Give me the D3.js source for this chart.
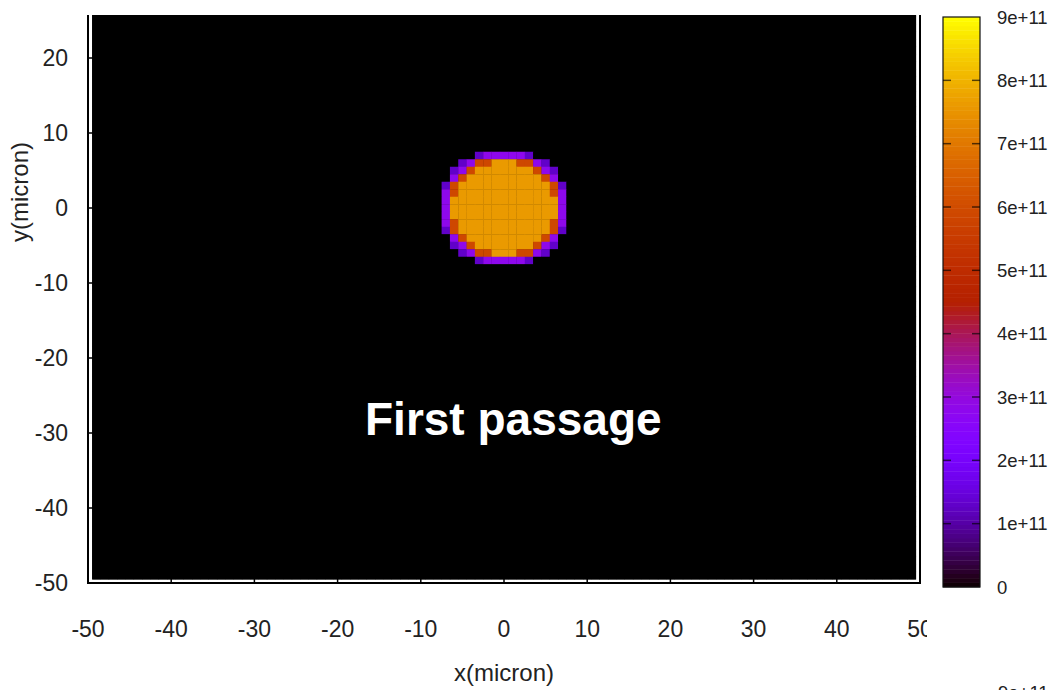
<!DOCTYPE html>
<html><head><meta charset="utf-8">
<script src="https://cdn.jsdelivr.net/npm/d3@7"></script>
<style>body{margin:0;background:#fff} svg{display:block}</style>
</head><body><svg id="c" width="1056" height="690"></svg>
<script>
// ---- data ----
const xTicks = [-50,-40,-30,-20,-10,0,10,20,30,40,50];
const yTicks = [-50,-40,-30,-20,-10,0,10,20];
const cbTicks = [0,1e11,2e11,3e11,4e11,5e11,6e11,7e11,8e11,9e11];
const cbLabels = ["0","1e+11","2e+11","3e+11","4e+11","5e+11","6e+11","7e+11","8e+11","9e+11"];
const zMax = 9e11;
const gridMin = -49, gridMax = 49;          // grid points (micron), 1 micron step
const diskTop = 8, diskLeft = -8;           // first row y, first column x of diskRows
const diskRows = [
  ".................",
  ".....dpppppd.....",
  "...dprrooorrpd...",
  "..dprooooooorpd..",
  "..prooooooooorp..",
  ".drooooooooooord.",
  ".prooooooooooorp.",
  ".pooooooooooooop.",
  ".pooooooooooooop.",
  ".pooooooooooooop.",
  ".prooooooooooorp.",
  ".drooooooooooord.",
  "..prooooooooorp..",
  "..dprooooooorpd..",
  "...dprrooorrpd...",
  ".....dpppppd.....",
  "................."
];
const codeValues = {".":0, "d":1.3e11, "p":2.8e11, "r":5.9e11, "o":7.6e11};
const title = "First passage";

// ---- drawing ----
const svg = d3.select("#c");
const font = "'Liberation Sans', Arial, Helvetica, sans-serif";
const x = d3.scaleLinear().domain([-50,50]).range([88,920]);
const y = d3.scaleLinear().domain([-50,50]).range([583,-167]);
const cb = d3.scaleLinear().domain([0,zMax]).range([587,17]);
function color(v){
  const t = Math.max(0, Math.min(1, v/zMax));
  const r = Math.sqrt(t), g = t*t*t, b = Math.max(0, Math.sin(2*Math.PI*t));
  return d3.rgb(r*255, g*255, b*255).toString();
}

const defs = svg.append("defs");
defs.append("clipPath").attr("id","plotclip").append("rect")
  .attr("x",0).attr("y",15).attr("width",940).attr("height",675);
defs.append("clipPath").attr("id","xlabclip").append("rect")
  .attr("x",0).attr("y",590).attr("width",927).attr("height",60);

const plot = svg.append("g").attr("clip-path","url(#plotclip)");

// cells
const cells = [];
for (let j = gridMax; j >= gridMin; j--) {
  for (let i = gridMin; i <= gridMax; i++) {
    let v = 0;
    const r = diskTop - j, c = i - diskLeft;
    if (r >= 0 && r < diskRows.length && c >= 0 && c < diskRows[r].length) v = codeValues[diskRows[r][c]];
    cells.push({i, j, v});
  }
}
plot.append("rect")
  .attr("x", x(gridMin-0.5)).attr("y", y(gridMax+0.5))
  .attr("width", x(gridMax+0.5)-x(gridMin-0.5))
  .attr("height", y(gridMin-0.5)-y(gridMax+0.5))
  .attr("fill", color(0));
plot.append("g").selectAll("rect").data(cells).join("rect")
  .attr("x", d => x(d.i-0.5))
  .attr("y", d => y(d.j+0.5))
  .attr("width", d => x(d.i+0.5)-x(d.i-0.5)+0.3)
  .attr("height", d => y(d.j-0.5)-y(d.j+0.5)+0.3)
  .attr("fill", d => color(d.v));

// frame
const fr = plot.append("g").attr("stroke","#000").attr("stroke-width",2).attr("fill","none");
fr.append("line").attr("x1",x(-50)).attr("x2",x(-50)).attr("y1",0).attr("y2",y(-50)+1);
fr.append("line").attr("x1",x(50)).attr("x2",x(50)).attr("y1",0).attr("y2",y(-50)+1);
fr.append("line").attr("x1",x(-50)-1).attr("x2",x(50)+1).attr("y1",y(-50)).attr("y2",y(-50));
// ticks
fr.selectAll(".yt").data(yTicks).join("line").attr("class","yt")
  .attr("x1",x(-50)).attr("x2",x(-50)+9).attr("y1",d=>y(d)).attr("y2",d=>y(d)).attr("stroke-width",1.5);
fr.selectAll(".xt").data(xTicks).join("line").attr("class","xt")
  .attr("y1",y(-50)).attr("y2",y(-50)-9).attr("x1",d=>x(d)).attr("x2",d=>x(d)).attr("stroke-width",1.5);

// tick labels
svg.append("g").selectAll("text").data(yTicks).join("text")
  .attr("x",68).attr("y",d=>y(d)).attr("dy","0.36em")
  .attr("text-anchor","end").attr("font-family",font).attr("font-size",23).attr("fill","#222")
  .text(d=>d);
svg.append("g").attr("clip-path","url(#xlabclip)").selectAll("text").data(xTicks).join("text")
  .attr("x",d=>x(d)).attr("y",637)
  .attr("text-anchor","middle").attr("font-family",font).attr("font-size",23).attr("fill","#222")
  .text(d=>d);

// axis titles
svg.append("text").attr("x",504).attr("y",681).attr("text-anchor","middle")
  .attr("font-family",font).attr("font-size",24).attr("fill","#222").text("x(micron)");
svg.append("text").attr("transform","translate(28,192) rotate(-90)").attr("text-anchor","middle")
  .attr("font-family",font).attr("font-size",24).attr("fill","#222").text("y(micron)");

// title inside plot
svg.append("text").attr("x",365).attr("y",435)
  .attr("font-family",font).attr("font-size",46).attr("font-weight","bold").attr("fill","#fff")
  .text(title);

// colorbar
const nb = 128;
const bands = d3.range(nb).map(k => ({lo: k*zMax/nb, hi: (k+1)*zMax/nb}));
const cbg = svg.append("g");
cbg.selectAll("rect").data(bands).join("rect")
  .attr("x",943).attr("width",37)
  .attr("y",d=>cb(d.hi)).attr("height",d=>cb(d.lo)-cb(d.hi)+0.4)
  .attr("fill",d=>color((d.lo+d.hi)/2));
cbg.append("rect").attr("x",943).attr("y",cb(zMax)).attr("width",37).attr("height",cb(0)-cb(zMax))
  .attr("fill","none").attr("stroke","#111").attr("stroke-width",1.2);
const inner = cbTicks.slice(1,-1);
cbg.selectAll(".tl").data(inner).join("line").attr("class","tl")
  .attr("x1",943).attr("x2",951).attr("y1",d=>cb(d)).attr("y2",d=>cb(d))
  .attr("stroke","#000").attr("stroke-opacity",0.65).attr("stroke-width",1.5);
cbg.selectAll(".tr").data(inner).join("line").attr("class","tr")
  .attr("x1",972).attr("x2",980).attr("y1",d=>cb(d)).attr("y2",d=>cb(d))
  .attr("stroke","#000").attr("stroke-opacity",0.65).attr("stroke-width",1.5);
cbg.selectAll("text").data(cbTicks).join("text")
  .attr("x",997).attr("y",d=>cb(d)).attr("dy","0.36em")
  .attr("font-family",font).attr("font-size",18.5).attr("fill","#222")
  .text((d,k)=>cbLabels[k]);

// cropped label of a neighbouring colorbar at the bottom edge
svg.append("text").attr("x",998).attr("y",699)
  .attr("font-family",font).attr("font-size",18.5).attr("fill","#222").text(cbLabels[9]);
</script></body></html>
